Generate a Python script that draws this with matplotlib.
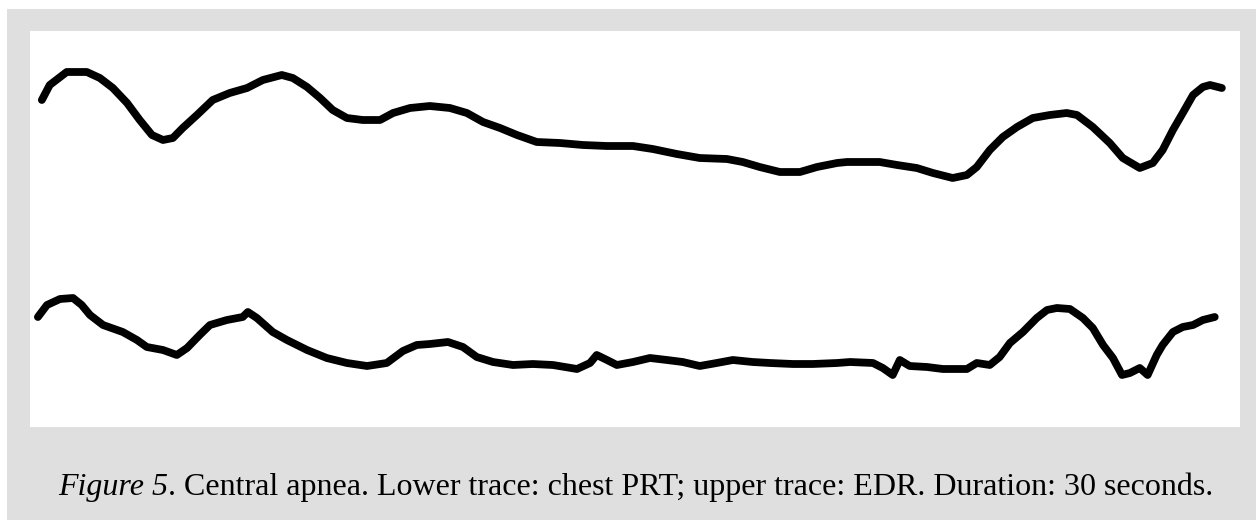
import matplotlib
matplotlib.use("Agg")
import matplotlib.pyplot as plt
from matplotlib.patches import Rectangle

# upper trace: EDR (time in s, amplitude in arbitrary units)
edr_t = [0.10, 0.30, 0.73, 1.24, 1.57, 1.90, 2.26, 2.58, 2.89, 3.17, 3.42, 3.67,
         4.03, 4.43, 4.86, 5.30, 5.70, 6.18, 6.46, 6.82, 7.15, 7.47, 7.83, 8.23,
         8.67, 9.00, 9.43, 9.93, 10.44, 10.87, 11.28, 11.71, 12.14, 12.64, 13.23,
         13.81, 14.42, 15.08, 15.58, 16.19, 16.77, 17.46, 17.86, 18.29, 18.80,
         19.31, 19.74, 20.25, 20.50, 21.33, 21.77, 22.27, 22.68, 23.18, 23.54,
         23.79, 24.12, 24.45, 24.81, 25.21, 25.64, 26.07, 26.33, 26.73, 27.16,
         27.49, 27.92, 28.25, 28.50, 28.76, 29.01, 29.27, 29.52, 29.70, 30.00]
edr_v = [100, 115, 128, 128, 122, 112, 97, 80, 65, 60, 62, 72,
         85, 100, 107, 112, 120, 125, 122, 113, 102, 90, 82, 80,
         80, 87, 92, 94, 92, 87, 78, 72, 65, 58, 57,
         55, 54, 54, 51, 46, 42, 41, 38, 33, 28,
         28, 33, 37, 38, 38, 35, 32, 27, 22, 25,
         33, 50, 63, 73, 82, 85, 87, 85, 73, 57,
         42, 32, 37, 50, 70, 87, 105, 113, 115, 112]

# lower trace: chest PRT
prt_t = [0.00, 0.23, 0.56, 0.89, 1.11, 1.32, 1.65, 2.15, 2.51, 2.76, 3.17, 3.52,
         3.78, 4.10, 4.36, 4.79, 5.19, 5.32, 5.55, 5.95, 6.31, 6.82, 7.32, 7.83,
         8.34, 8.84, 9.25, 9.60, 9.93, 10.39, 10.77, 11.12, 11.53, 12.04, 12.54,
         13.05, 13.66, 13.99, 14.16, 14.42, 14.67, 15.08, 15.51, 15.94, 16.34,
         16.77, 17.20, 17.61, 18.11, 18.55, 19.13, 19.63, 20.25, 20.58, 21.16,
         21.41, 21.66, 21.84, 22.09, 22.53, 22.93, 23.54, 23.79, 24.12, 24.37,
         24.63, 24.96, 25.31, 25.57, 25.82, 26.15, 26.48, 26.73, 26.99, 27.24,
         27.47, 27.67, 27.92, 28.12, 28.35, 28.50, 28.76, 29.01, 29.27, 29.52, 29.82]
prt_v = [83, 95, 101, 102, 95, 85, 75, 68, 60, 53, 50, 45,
         52, 65, 75, 80, 83, 88, 82, 68, 60, 50, 42, 37,
         34, 37, 49, 55, 56, 58, 53, 43, 38, 35, 36,
         35, 31, 37, 45, 40, 35, 38, 42, 40, 38,
         34, 37, 40, 38, 37, 36, 36, 37, 38, 37,
         32, 25, 40, 34, 33, 31, 31, 37, 35, 43,
         57, 68, 82, 90, 92, 91, 82, 72, 55, 42,
         25, 27, 32, 25, 45, 55, 68, 73, 75, 80, 83]

edr_offset = 200  # vertical offset of the upper trace

fig = plt.figure(figsize=(12.56, 5.20), dpi=100)
fig.patch.set_facecolor("white")
fig.patches.append(Rectangle((7 / 1256, 0), 1 - 7 / 1256, 1 - 9 / 520,
                             transform=fig.transFigure, facecolor="#dfdfdf",
                             edgecolor="none", zorder=-1))

ax = fig.add_axes([30 / 1256, 93 / 520, 1210 / 1256, 396 / 520])
ax.set_facecolor("white")
ax.plot(edr_t, [v + edr_offset for v in edr_v], color="black", lw=5.6,
        solid_capstyle="round", solid_joinstyle="round")
ax.plot(prt_t, prt_v, color="black", lw=5.6,
        solid_capstyle="round", solid_joinstyle="round")
ax.set_xlim(-0.20, 30.46)
ax.set_ylim(-27, 369)
ax.set_xticks([])
ax.set_yticks([])
for s in ax.spines.values():
    s.set_visible(False)

# caption: italic label followed by roman text
cap_y = 25 / 520
t1 = fig.text(58 / 1256, cap_y, "Figure 5", family="Liberation Serif",
              style="italic", fontsize=23, va="baseline")
fig.canvas.draw()
bb = t1.get_window_extent()
fig.text(bb.x1 / fig.bbox.width, cap_y,
         ". Central apnea. Lower trace: chest PRT; upper trace: EDR. Duration: 30 seconds.",
         family="Liberation Serif", fontsize=23, va="baseline")

fig.savefig("out.png", dpi=100, facecolor=fig.get_facecolor())
